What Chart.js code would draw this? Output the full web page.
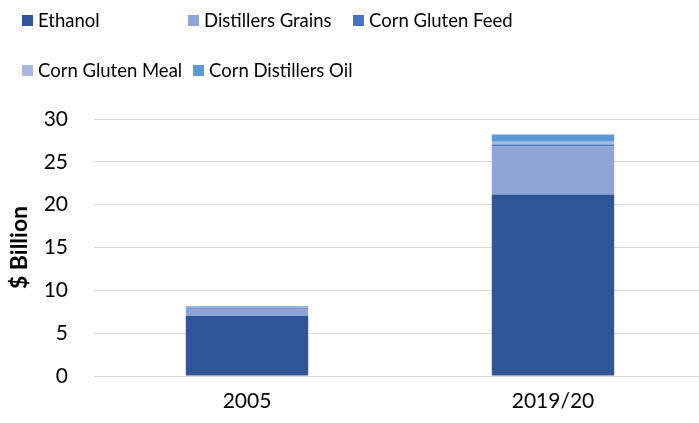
<!DOCTYPE html>
<html>
<head>
<meta charset="utf-8">
<script src="https://cdn.jsdelivr.net/npm/chart.js@4/dist/chart.umd.min.js"></script>
<style>
  body { margin: 0; background: #fff; }
  #wrap { position: relative; width: 699px; height: 423px; overflow: hidden; font-family: Lato, sans-serif; }
  #chart { position: absolute; left: 0; top: 0; }
  .leg { position: absolute; display: flex; align-items: center; font-size: 18.5px; color: #000; white-space: nowrap; }
  .leg .box { width: 11px; height: 11px; margin-right: 5px; }
</style>
</head>
<body>
<div id="wrap">
  <canvas id="chart" width="706" height="423"></canvas>
</div>
<script>
// data
const years = ["2005", "2019/20"];
const seriesNames = ["Ethanol", "Distillers Grains", "Corn Gluten Feed", "Corn Gluten Meal", "Corn Distillers Oil"];
const ethanol = [7.0, 21.2];
const distillersGrains = [0.85, 5.6];
const cornGlutenFeed = [0.12, 0.23];
const cornGlutenMeal = [0.1, 0.3];
const cornDistillersOil = [0.1, 0.85];
const yTicks = [0, 5, 10, 15, 20, 25, 30];

const colors = ["#2F5597", "#8FA5D6", "#4472C4", "#A9B8DF", "#5B9BD5"];
const values = [ethanol, distillersGrains, cornGlutenFeed, cornGlutenMeal, cornDistillersOil];

// legend, laid out like the original (two rows)
const legendPos = [[22, 21], [188, 21], [353, 21], [22, 71], [193, 71]];
const wrap = document.getElementById("wrap");
seriesNames.forEach((name, i) => {
    const el = document.createElement("div");
    el.className = "leg";
    el.style.left = legendPos[i][0] + "px";
    el.style.top = (legendPos[i][1] - 12) + "px";
    el.innerHTML = '<span class="box" style="background:' + colors[i] + '"></span>' + name;
    wrap.appendChild(el);
});

const font = { family: "Lato, sans-serif", size: 21 };

new Chart(document.getElementById("chart"), {
    type: "bar",
    data: {
        labels: years,
        datasets: seriesNames.map((name, i) => ({
            label: name,
            data: values[i],
            backgroundColor: colors[i],
            borderWidth: 0,
            categoryPercentage: 1,
            barPercentage: 0.4
        }))
    },
    options: {
        responsive: false,
        animation: false,
        layout: { padding: { top: 119, left: 6, right: 0, bottom: 0 } },
        plugins: { legend: { display: false }, tooltip: { enabled: false } },
        scales: {
            x: {
                stacked: true,
                grid: { display: false, drawTicks: false },
                border: { color: "#D9D9D9" },
                ticks: { color: "#000", font: font, padding: 13 },
                afterFit: s => { s.height = 47; }
            },
            y: {
                stacked: true,
                min: 0,
                max: 30,
                afterBuildTicks: s => { s.ticks = yTicks.map(v => ({ value: v })); },
                grid: { color: "#D9D9D9", drawTicks: false },
                border: { display: false },
                ticks: { color: "#000", font: font, padding: 26 },
                title: {
                    display: true,
                    text: "$ Billion",
                    color: "#000",
                    font: { family: "Lato, sans-serif", size: 23, weight: "bold" },
                    padding: 0
                },
                afterFit: s => { s.width = 88; }
            }
        }
    }
});
</script>
</body>
</html>
